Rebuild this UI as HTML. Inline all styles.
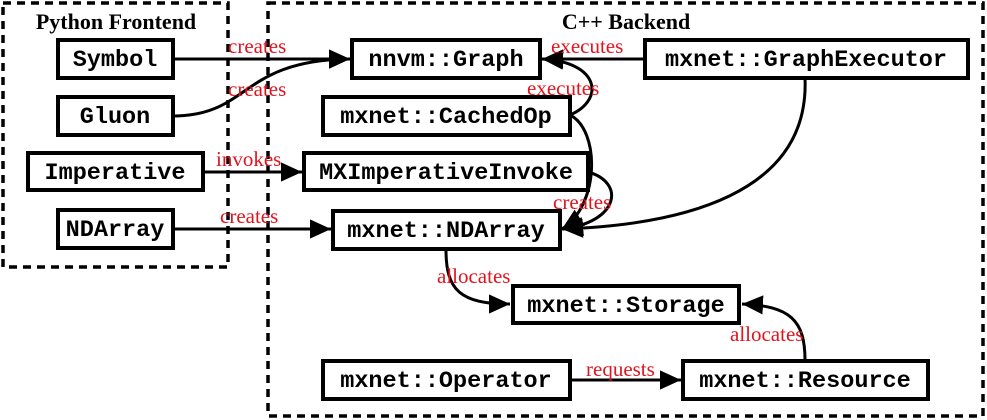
<!DOCTYPE html>
<html><head><style>body{margin:0;background:#fff}svg{display:block}
.b{fill:#fff;stroke:#000;stroke-width:4}
.t{font-family:"Liberation Mono",monospace;font-weight:bold;font-size:23.5px;text-anchor:middle}
.l{font-family:"Liberation Serif",serif;font-size:21px;fill:#e0141e}
.h{font-family:"Liberation Serif",serif;font-weight:bold;font-size:22px;text-anchor:middle}
.e{fill:none;stroke:#000;stroke-width:3}
</style></head><body>
<svg width="987" height="420" viewBox="0 0 987 420">
<defs><marker id="a" markerWidth="8" markerHeight="8" refX="7" refY="4" orient="auto" markerUnits="strokeWidth"><path d="M0,0.8 L7,4 L0,7.2Z" fill="#000"/></marker></defs>
<rect x="3" y="3" width="225" height="264" fill="none" stroke="#000" stroke-width="3.5" stroke-dasharray="8,6"/>
<rect x="268" y="3" width="715" height="413" fill="none" stroke="#000" stroke-width="3.5" stroke-dasharray="8,6"/>
<text class="h" x="116" y="29">Python Frontend</text>
<text class="h" x="626" y="29">C++ Backend</text>
<path class="e" marker-end="url(#a)" d="M173,59 L350,59"/>
<path class="e" marker-end="url(#a)" d="M173,116 C250,116 240,60 350,59"/>
<path class="e" marker-end="url(#a)" d="M203,172 L302,172"/>
<path class="e" marker-end="url(#a)" d="M173,229 L331,229"/>
<path class="e" marker-end="url(#a)" d="M645,59 L542,59"/>
<path class="e" marker-end="url(#a)" d="M570,115 C605,100 600,62 542,59"/>
<path class="e" marker-end="url(#a)" d="M570,115 C600,130 600,205 562,229"/>
<path class="e" marker-end="url(#a)" d="M588,172 C625,182 620,222 562,229"/>
<path class="e" marker-end="url(#a)" d="M805,78 C810,195 680,225 562,229"/>
<path class="e" marker-end="url(#a)" d="M446,250 C446,290 460,304 510,304"/>
<path class="e" marker-end="url(#a)" d="M805,360 C805,320 790,306 742,304"/>
<path class="e" marker-end="url(#a)" d="M570,380 L681,380"/>
<rect class="b" x="58" y="40" width="115" height="38"/><text class="t" x="115" y="66">Symbol</text>
<rect class="b" x="58" y="97" width="115" height="38"/><text class="t" x="115" y="123">Gluon</text>
<rect class="b" x="28" y="153" width="175" height="37"/><text class="t" x="115" y="179">Imperative</text>
<rect class="b" x="58" y="210" width="115" height="38"/><text class="t" x="115" y="236">NDArray</text>
<rect class="b" x="352" y="40" width="188" height="38"/><text class="t" x="446" y="66">nnvm::Graph</text>
<rect class="b" x="645" y="40" width="323" height="38"/><text class="t" x="806" y="66">mxnet::GraphExecutor</text>
<rect class="b" x="323" y="97" width="247" height="38"/><text class="t" x="446" y="123">mxnet::CachedOp</text>
<rect class="b" x="304" y="153" width="284" height="37"/><text class="t" x="446" y="179">MXImperativeInvoke</text>
<rect class="b" x="333" y="211" width="227" height="38"/><text class="t" x="446" y="237">mxnet::NDArray</text>
<rect class="b" x="513" y="286" width="226" height="37" stroke-width="6"/><text class="t" x="626" y="312">mxnet::Storage</text>
<rect class="b" x="323" y="361" width="247" height="38"/><text class="t" x="446" y="387">mxnet::Operator</text>
<rect class="b" x="683" y="361" width="245" height="38"/><text class="t" x="805" y="387">mxnet::Resource</text>
<text class="l" x="228" y="53">creates</text>
<text class="l" x="228" y="96">creates</text>
<text class="l" x="216" y="166">invokes</text>
<text class="l" x="220" y="223">creates</text>
<text class="l" x="551" y="53">executes</text>
<text class="l" x="527" y="95">executes</text>
<text class="l" x="553" y="209">creates</text>
<text class="l" x="437" y="283">allocates</text>
<text class="l" x="730" y="341">allocates</text>
<text class="l" x="586" y="376">requests</text>
</svg></body></html>
